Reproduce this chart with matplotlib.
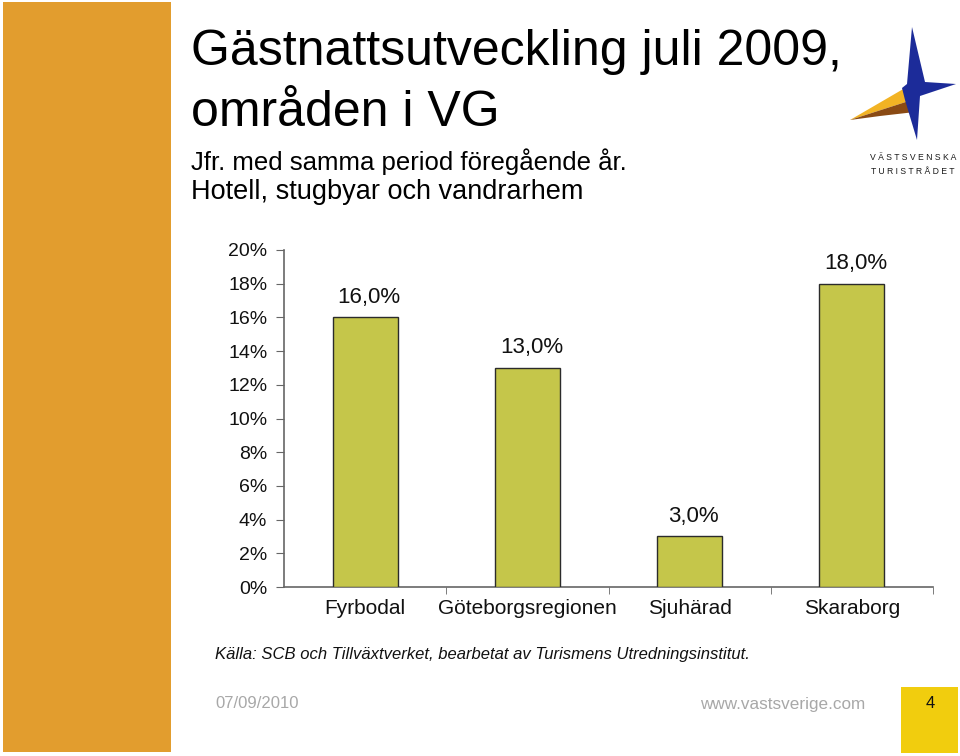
import matplotlib
matplotlib.use("Agg")
import matplotlib.pyplot as plt
from matplotlib.patches import Rectangle, Polygon
import numpy as np

categories = ["Fyrbodal", "Göteborgsregionen", "Sjuhärad", "Skaraborg"]
values = [16.0, 13.0, 3.0, 18.0]
value_labels = ["16,0%", "13,0%", "3,0%", "18,0%"]
yticks = [0, 2, 4, 6, 8, 10, 12, 14, 16, 18, 20]
ytick_labels = [f"{t}%" for t in yticks]

title_lines = ["Gästnattsutveckling juli 2009,", "områden i VG"]
subtitle_lines = ["Jfr. med samma period föregående år.", "Hotell, stugbyar och vandrarhem"]
source = "Källa: SCB och Tillväxtverket, bearbetat av Turismens Utredningsinstitut."
date_text = "07/09/2010"
url_text = "www.vastsverige.com"
page_no = "4"

plt.rcParams['font.family'] = ['Liberation Sans', 'DejaVu Sans']

W, H = 960, 756
fig = plt.figure(figsize=(W / 100, H / 100), dpi=100)
fig.patch.set_facecolor("white")

def fx(x):
    return x / W

def fy(y):
    return 1 - y / H

# orange side band
fig.patches.append(Rectangle((fx(3), fy(752)), fx(168), (750) / H,
                             transform=fig.transFigure, facecolor="#E29D2E",
                             edgecolor="none", zorder=0))
# page number box
fig.patches.append(Rectangle((fx(901), fy(753)), fx(57), 66 / H,
                             transform=fig.transFigure, facecolor="#F1CD0E",
                             edgecolor="none", zorder=0))

# logo
blue = [(912, 27), (925, 82), (956, 84), (920, 96), (917, 140), (905, 100), (902, 88), (907, 84)]
orange = [(850, 120), (905, 88), (912, 100)]
brown = [(850, 120), (912, 100), (915, 112), (880, 116)]
for pts, col in [(orange, "#F2B324"), (brown, "#8A4A14"), (blue, "#1C2B99")]:
    fig.patches.append(Polygon([(fx(x), fy(y)) for x, y in pts], closed=True,
                               transform=fig.transFigure, facecolor=col,
                               edgecolor="none", zorder=1))
fig.text(fx(913), fy(157), "V Ä S T S V E N S K A", ha="center", va="center",
         fontsize=6.2, color="#1a1a1a")
fig.text(fx(913), fy(172), "T U R I S T R Å D E T", ha="center", va="center",
         fontsize=6.2, color="#1a1a1a")

# titles
fig.text(fx(191), fy(52), title_lines[0], fontsize=36, ha="left", va="center", color="#000000")
fig.text(fx(191), fy(113), title_lines[1], fontsize=36, ha="left", va="center", color="#000000")
fig.text(fx(191), fy(162), subtitle_lines[0], fontsize=18.5, ha="left", va="center", color="#000000")
fig.text(fx(191), fy(192), subtitle_lines[1], fontsize=19.5, ha="left", va="center", color="#000000")

# chart
ax = fig.add_axes([fx(284), fy(587), fx(933 - 284), (587 - 250) / H])
x = np.arange(len(categories))
bars = ax.bar(x, values, width=0.4, color="#C5C64A", edgecolor="#2b2b2b", linewidth=1.0, zorder=3)
ax.set_xlim(-0.5, len(categories) - 0.5)
ax.set_ylim(0, 20)
ax.set_yticks(yticks)
ax.set_yticklabels(ytick_labels, fontsize=14, color="#111111")
ax.set_xticks(x)
ax.set_xticklabels(categories, fontsize=15, color="#111111")
ax.tick_params(axis="x", length=0, pad=9)
ax.set_xticks(np.arange(len(categories)) + 0.5, minor=True)
ax.tick_params(axis="x", which="minor", length=5, color="#666666", direction="out")
ax.tick_params(axis="y", length=6, color="#666666", pad=6, direction="out")
for s in ["top", "right"]:
    ax.spines[s].set_visible(False)
for s in ["left", "bottom"]:
    ax.spines[s].set_color("#666666")
    ax.spines[s].set_linewidth(1.2)
for xi, v, lab in zip(x, values, value_labels):
    ax.annotate(lab, (xi, v), xytext=(3, 7), textcoords="offset points",
                ha="center", va="bottom", fontsize=16, color="#111111")

# footer
fig.text(fx(215), fy(655), source, fontsize=12, style="italic", ha="left", va="center", color="#111111")
fig.text(fx(215), fy(704), date_text, fontsize=12, ha="left", va="center", color="#A8A8A8")
fig.text(fx(700), fy(704), url_text, fontsize=12.3, ha="left", va="center", color="#A8A8A8")
fig.text(fx(930), fy(704), page_no, fontsize=12, ha="center", va="center", color="#111111")

fig.savefig("out.png", dpi=100, facecolor="white")
